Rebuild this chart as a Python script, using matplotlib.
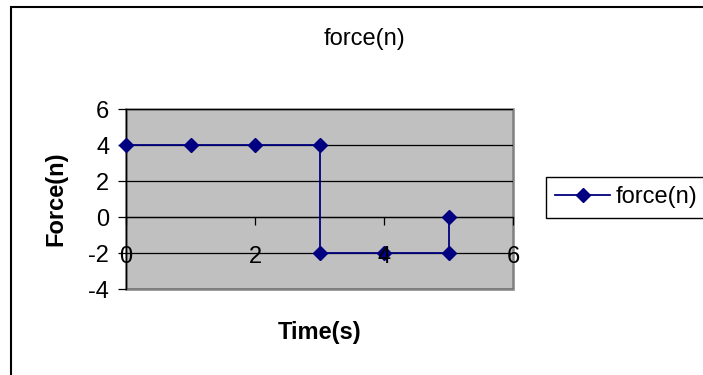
import matplotlib
matplotlib.use("Agg")
import matplotlib.pyplot as plt
from matplotlib.patches import Rectangle

time_s = [0, 1, 2, 3, 3, 4, 5, 5]
force_n = [4, 4, 4, 4, -2, -2, -2, 0]
x_ticks = [0, 2, 4, 6]
y_ticks = [-4, -2, 0, 2, 4, 6]
series_name = "force(n)"

plt.rcParams['font.family'] = ['Liberation Sans', 'DejaVu Sans']
W, H = 703, 375
fig = plt.figure(figsize=(W / 100, H / 100), dpi=100)
fig.patch.set_facecolor('white')

# outer chart border
fig.patches.append(Rectangle((11 / W, -0.1), 1.2, 1 - 7 / H + 0.1, transform=fig.transFigure,
                             fill=False, edgecolor='black', linewidth=1.5))

left, right, top, bottom = 126, 513, 109, 289
ax = fig.add_axes([left / W, 1 - bottom / H, (right - left) / W, (bottom - top) / H])
ax.set_facecolor('#C0C0C0')
ax.set_xlim(0, 6)
ax.set_ylim(-4, 6)

for yv in y_ticks:
    ax.axhline(yv, color='black', linewidth=0.9, zorder=1)

ax.plot(time_s, force_n, color='#000080', linewidth=1.3, marker='D', markersize=7,
        markerfacecolor='#000080', markeredgecolor='#000080', label=series_name, zorder=3,
        clip_on=False)

ax.spines['top'].set_visible(False)
ax.spines['right'].set_visible(False)
ax.spines['left'].set_color('black')
ax.spines['left'].set_linewidth(1.0)
ax.spines['bottom'].set_position(('data', 0))
ax.spines['bottom'].set_color('black')
ax.spines['bottom'].set_linewidth(0.9)
ax.add_patch(Rectangle((0, 0), 1, 1, transform=ax.transAxes, fill=False,
                       edgecolor='#808080', linewidth=1.8, clip_on=False, zorder=0.5))

ax.set_xticks(x_ticks)
ax.set_yticks(y_ticks)
ax.set_xticklabels([str(v) for v in x_ticks])
ax.set_yticklabels([str(v) for v in y_ticks])
ax.tick_params(axis='x', direction='out', length=6, width=0.9, pad=15, labelsize=17, colors='black')
ax.tick_params(axis='y', direction='out', length=6, width=0.9, pad=6, labelsize=17, colors='black')
ax.xaxis.set_zorder(4)

fig.text(364 / W, 1 - 39 / H, "force(n)", ha='center', va='center', fontsize=17)
fig.text(56 / W, 1 - 199 / H, "Force(n)", ha='center', va='center', fontsize=17,
         fontweight='bold', rotation=90)
fig.text(320 / W, 1 - 332 / H, "Time(s)", ha='center', va='center', fontsize=17,
         fontweight='bold')

# legend box (extends past the right edge as in the reference)
fig.patches.append(Rectangle((546 / W, 1 - 218 / H), 200 / W, 41 / H, transform=fig.transFigure,
                             fill=True, facecolor='white', edgecolor='black', linewidth=1.0))
leg = fig.legend(loc='center left', bbox_to_anchor=(546 / W, 1 - 197.5 / H),
                 bbox_transform=fig.transFigure, borderaxespad=0, fontsize=17,
                 frameon=False, handlelength=2.3, handletextpad=0.25,
                 borderpad=0.4)

fig.savefig('out.png', dpi=100)
